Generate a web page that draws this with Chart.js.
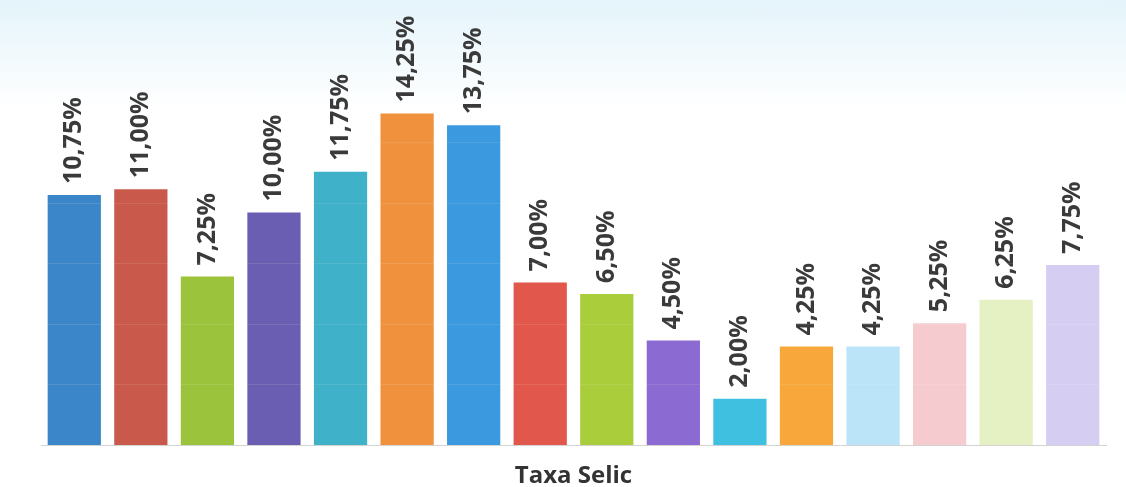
<!DOCTYPE html>
<html lang="pt-BR">
<head>
<meta charset="UTF-8">
<title>Taxa Selic</title>
<script src="https://cdn.jsdelivr.net/npm/chart.js"></script>
<style>
  body {
    margin: 0;
    padding: 0;
    width: 1126px;
    height: 487px;
    overflow: hidden;
    background: linear-gradient(to bottom, #e4f4fb 0px, #f3fafd 60px, #ffffff 110px, #ffffff 100%);
  }
  .wrap {
    position: relative;
    width: 1126px;
    height: 487px;
  }
</style>
</head>
<body>
<div class="wrap">
  <canvas id="selicChart"></canvas>
</div>

<script>
  // periodos (sem rotulo visivel no grafico)
  var periodos = ['1', '2', '3', '4', '5', '6', '7', '8', '9', '10', '11', '12', '13', '14', '15', '16'];
  // taxa Selic (%)
  var taxas = [10.75, 11.00, 7.25, 10.00, 11.75, 14.25, 13.75, 7.00, 6.50, 4.50, 2.00, 4.25, 4.25, 5.25, 6.25, 7.75];
  var cores = ['#3b86c9', '#c9594b', '#9bc33b', '#6a5eb3', '#3fb1c9', '#f0913d',
               '#3b99e0', '#e2574b', '#a9cd3b', '#8b6bd2', '#40c0e0', '#f8a83b',
               '#bce4f8', '#f5cbd0', '#e6f1c3', '#d6cef2'];

  // etiquetas verticais em cima de cada barra
  var etiquetas = {
    id: 'etiquetas',
    afterDatasetsDraw: function(chart) {
      var ctx = chart.ctx;
      var meta = chart.getDatasetMeta(0);
      ctx.save();
      ctx.font = 'bold 25px "Open Sans", sans-serif';
      ctx.fillStyle = '#3a3a3a';
      ctx.textAlign = 'left';
      ctx.textBaseline = 'middle';
      meta.data.forEach(function(bar, i) {
        var txt = taxas[i].toFixed(2).replace('.', ',') + '%';
        ctx.save();
        ctx.translate(bar.x, bar.y - 11);
        ctx.rotate(-Math.PI / 2);
        ctx.fillText(txt, 0, 0);
        ctx.restore();
      });
      ctx.restore();
    }
  };

  var ctx = document.getElementById('selicChart').getContext('2d');
  var grafico = new Chart(ctx, {
    type: 'bar',
    data: {
      labels: periodos,
      datasets: [{
        label: 'Taxa Selic',
        data: taxas,
        backgroundColor: cores,
        borderWidth: 0,
        categoryPercentage: 1.0,
        barPercentage: 0.8
      }]
    },
    options: {
      responsive: true,
      maintainAspectRatio: false,
      animation: false,
      layout: {
        padding: { left: 41, right: 20, top: 3, bottom: 0 }
      },
      plugins: {
        legend: { display: false },
        tooltip: { enabled: false }
      },
      scales: {
        x: {
          grid: { display: false, drawTicks: false },
          border: { display: true, color: '#cfcfcf', width: 1 },
          ticks: { display: false },
          title: {
            display: true,
            text: 'Taxa Selic',
            color: '#333333',
            font: { family: '"Open Sans", sans-serif', size: 24, weight: 'bold', lineHeight: 0.9 },
            padding: { top: 20, bottom: 0 }
          }
        },
        y: {
          display: true,
          min: 0,
          max: 19,
          ticks: { display: false, stepSize: 2.6 },
          border: { display: false },
          grid: {
            z: 1,
            drawTicks: false,
            color: 'rgba(255, 255, 235, 0.1)',
            lineWidth: 1
          }
        }
      }
    },
    plugins: [etiquetas]
  });
</script>
</body>
</html>
